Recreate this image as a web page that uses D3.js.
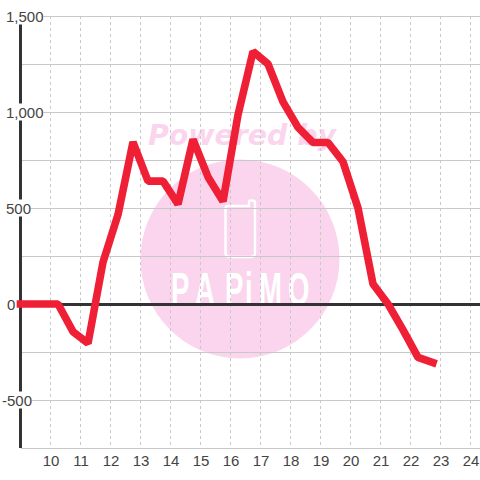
<!DOCTYPE html>
<html><head><meta charset="utf-8">
<script src="https://cdn.jsdelivr.net/npm/d3@7"></script>
<style>html,body{margin:0;padding:0;background:#fff}svg{display:block}</style>
</head><body><svg id="c" width="480" height="480"></svg>
<script>
const hours=[9,9.75,10.25,10.75,11.25,11.75,12.25,12.75,13.25,13.75,14.25,14.75,15.25,15.75,16.25,16.75,17.25,17.75,18.25,18.75,19.25,19.75,20.25,20.75,21.25,21.75,22.25,22.75];
const values=[0,0,0,-144,-205,218,465,843,640,640,520,857,662,535,985,1315,1250,1053,920,841,841,741,500,104,0,-135,-278,-305];
const xTicks=[10,11,12,13,14,15,16,17,18,19,20,21,22,23,24];
const yMajor=[1500,1000,500,0,-500];
const yMinor=[1250,750,250,-250,-750];

const svg=d3.select('#c');
const root=svg.append('g').attr('opacity',0.995);
const x=d3.scaleLinear().domain([9,25]).range([20.5,500.5]);
const y=d3.scaleLinear().domain([-750,1500]).range([448,16]);
const font='"Liberation Sans",sans-serif';

// watermark
const wm=root.append('g');
wm.append('text').attr('x',242).attr('y',145).attr('text-anchor','middle')
  .attr('font-family','"DejaVu Sans"').attr('font-weight','bold').attr('font-style','italic')
  .attr('font-size',28.4).attr('fill','#fbd5ee').text('Powered by');
wm.append('circle').attr('cx',240).attr('cy',259).attr('r',99.5).attr('fill','#fbd5ee');
wm.append('path').attr('d','M228 206 H249 V201.5 Q249 200.5 251.5 200.5 Q254.5 200.5 255 202 V253 Q255 257 251 257 H230 Q225.5 257 225.5 253 V209 Q225.5 206 228 206 Z')
  .attr('fill','none').attr('stroke','#fff').attr('stroke-width',2.4);
const sx=0.6;
wm.append('text').attr('transform',`scale(${sx},1)`)
  .attr('x',[171,195,225,245,259,288].map(v=>v/sx).join(' ')).attr('y',305)
  .attr('font-family','"Liberation Sans"').attr('font-weight','bold').attr('font-size',46)
  .attr('fill','#fff').text('PAPiMO');

// grid
const gridColor='#c8c8c8';
root.append('g').selectAll('line').data(xTicks).join('line')
  .attr('x1',d=>x(d)).attr('x2',d=>x(d)).attr('y1',y(1500)).attr('y2',y(-750))
  .attr('stroke',gridColor).attr('stroke-width',1).attr('stroke-dasharray','3,3');
root.append('g').selectAll('line').data(yMinor.concat(yMajor.filter(d=>d!==0))).join('line')
  .attr('x1',21).attr('x2',480).attr('y1',d=>y(d)+.5).attr('y2',d=>y(d)+.5)
  .attr('stroke',gridColor).attr('stroke-width',1);

// axes lines
root.append('line').attr('x1',20.5).attr('x2',20.5).attr('y1',16).attr('y2',448).attr('stroke','#333').attr('stroke-width',3);
root.append('line').attr('x1',20).attr('x2',480).attr('y1',y(0)+.5).attr('y2',y(0)+.5).attr('stroke','#333').attr('stroke-width',3);

// y labels with white background
const labels=root.append('g').selectAll('g').data(yMajor).join('g');
labels.append('text').attr('x',d=>d<0?2:(d===0?7:6)).attr('y',d=>y(d)+5.5)
  .attr('font-family',font).attr('font-size',15).attr('fill','#444')
  .text(d=>d3.format(',')(d).replace('\u2212','-'));
labels.each(function(){
  const t=d3.select(this).select('text'), b=t.node().getBBox();
  d3.select(this).insert('rect','text').attr('x',b.x).attr('y',b.y).attr('width',b.width).attr('height',b.height).attr('fill','#fff');
});

// x labels
root.append('g').selectAll('text').data(xTicks).join('text')
  .attr('x',d=>x(d)+.5).attr('y',466).attr('text-anchor','middle')
  .attr('font-family',font).attr('font-size',15).attr('fill','#444').text(d=>d);

// series
const line=d3.line().x((d,i)=>x(hours[i])).y(d=>y(d));
root.append('path').datum(values).attr('d',line).attr('fill','none')
  .attr('stroke','#ef2036').attr('stroke-width',7.6).attr('stroke-linecap','square').attr('stroke-linejoin','bevel');
</script></body></html>
